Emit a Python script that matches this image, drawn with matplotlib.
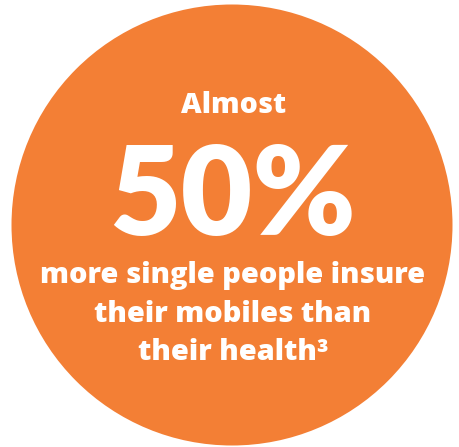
import matplotlib
matplotlib.use("Agg")
import matplotlib.pyplot as plt
from matplotlib.patches import Circle

# content
stat_value = 50
stat_unit = "%"
lead_text = "Almost"
caption_lines = ["more single people insure", "their mobiles than", "their health\u00b3"]

orange = "#F37F35"
font = ["Open Sans", "DejaVu Sans"]
big_font = ["Lato", "DejaVu Sans"]

fig = plt.figure(figsize=(4.6, 4.47), dpi=100)
ax = fig.add_axes([0, 0, 1, 1])
ax.set_xlim(0, 460)
ax.set_ylim(447, 0)
ax.set_aspect("equal")
ax.axis("off")

ax.add_patch(Circle((232, 225), 220.5, color=orange, lw=0))

ax.text(234, 113, lead_text, color="white", fontsize=20.5, fontweight="heavy",
        family=font, ha="center", va="baseline")
ax.text(233, 235, f"{stat_value}{stat_unit}", color="white", fontsize=89,
        fontweight="heavy", family=big_font, ha="center", va="baseline")

baselines = [283, 322, 360]
for line, y in zip(caption_lines, baselines):
    ax.text(233, y, line, color="white", fontsize=20.9, fontweight="heavy",
            family=font, ha="center", va="baseline")

fig.savefig("out.png", dpi=100)
